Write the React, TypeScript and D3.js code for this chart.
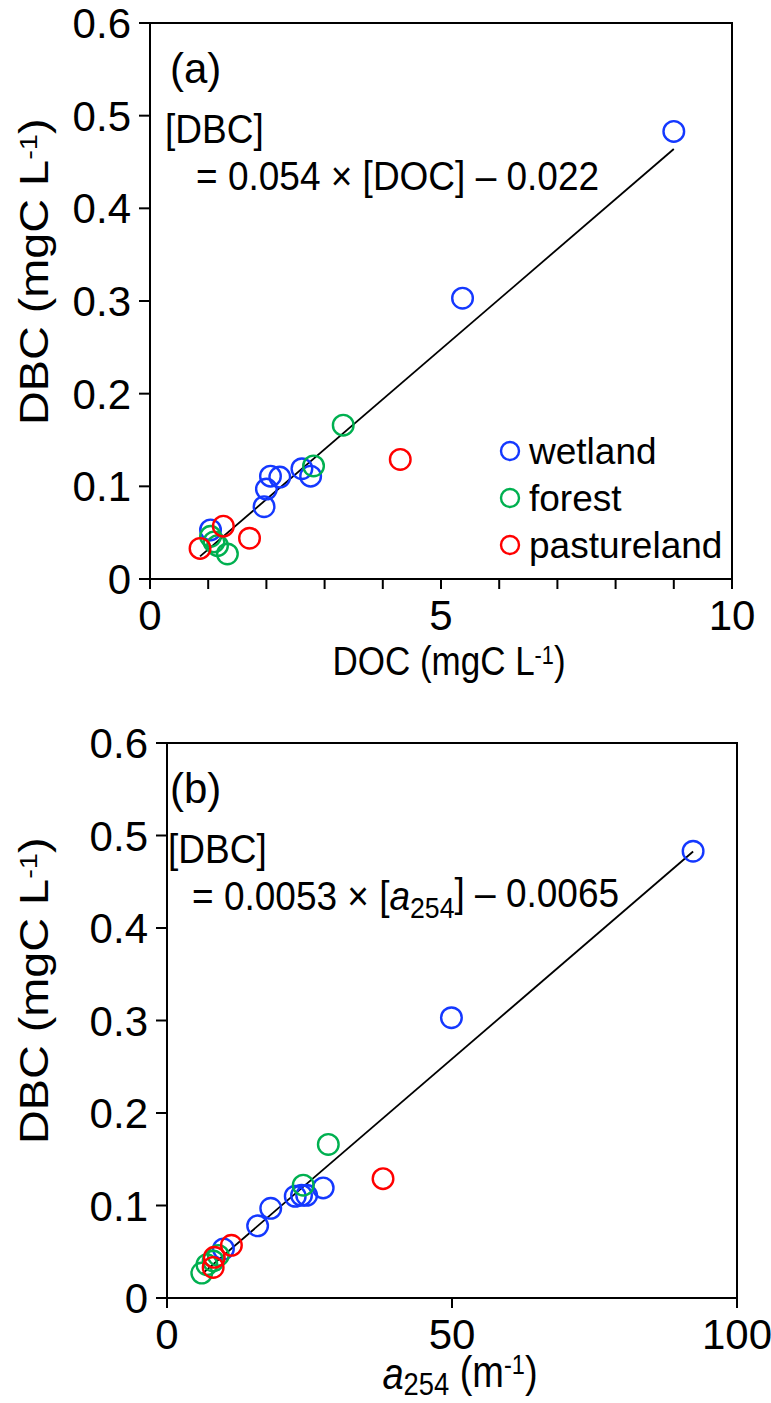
import * as d3 from 'd3';

// wetland / forest / pastureland samples (DBC, DOC, a254)
const wetlandDBC = [0.483, 0.303, 0.119, 0.111, 0.111, 0.110, 0.097, 0.078, 0.053];
const wetlandDOC = [9.0, 5.37, 2.61, 2.76, 2.07, 2.23, 2.0, 1.96, 1.04];
const wetlandA254 = [92.3, 49.9, 27.4, 24.5, 23.6, 22.5, 18.2, 15.9, 9.9];

const forestDBC = [0.166, 0.122, 0.046, 0.04, 0.036, 0.027];
const forestDOC = [3.32, 2.81, 1.04, 1.1, 1.16, 1.33];
const forestA254 = [28.3, 23.9, 9.0, 8.1, 7.0, 6.1];

const pastureDBC = [0.129, 0.057, 0.044, 0.033];
const pastureDOC = [4.3, 1.26, 1.71, 0.86];
const pastureA254 = [37.9, 11.3, 8.3, 8.1];

const yTicks = [0, 0.1, 0.2, 0.3, 0.4, 0.5, 0.6];
const docTicks = [0, 1, 2, 3, 4, 5, 6, 7, 8, 9, 10];
const docLabels = [0, 5, 10];
const a254Ticks = [0, 50, 100];

const fitA = { slope: 0.054, icept: -0.022 };
const fitB = { slope: 0.0053, icept: -0.0065 };

const groups = [
  { name: 'wetland', color: '#1438ff', dbc: wetlandDBC, doc: wetlandDOC, a254: wetlandA254 },
  { name: 'forest', color: '#00b050', dbc: forestDBC, doc: forestDOC, a254: forestA254 },
  { name: 'pastureland', color: '#ff0000', dbc: pastureDBC, doc: pastureDOC, a254: pastureA254 },
];

const FONT = '"Liberation Sans", Arial, sans-serif';
const TICK_FS = 42;
const TAG_FS = 42;
const EQ_FS = 37;
const LEG_FS = 37;
const YT_FS = 40;
const STRETCH = 1.17; // the source image is a bit taller than wide

const sup = (fs) => (
  <>
    <tspan dy="-0.45em" fontSize={fs * 0.62}>-1</tspan>
    <tspan dy="0.28em">)</tspan>
  </>
);

function Panel({ top, left, right, bottom, xMax, xTicks, xLabels, xKey, fit, tag, eq, textX, xTitle, xTitleFs, xTitleDy, legend }) {
  const x = d3.scaleLinear().domain([0, xMax]).range([left, right]);
  const y = d3.scaleLinear().domain([0, 0.6]).range([bottom, top]);
  const allX = groups.flatMap((g) => g[xKey]);
  const [x0, x1] = d3.extent(allX);
  const line = d3.line().x((d) => x(d)).y((d) => y(fit.slope * d + fit.icept));
  const midX = (left + right) / 2;
  return (
    <g fontFamily={FONT} fill="#000">
      <rect x={left} y={top} width={right - left} height={bottom - top} fill="none" stroke="#000" strokeWidth={2} />
      {yTicks.map((t) => (
        <g key={'y' + t}>
          <line x1={left - 11} x2={left} y1={y(t)} y2={y(t)} stroke="#000" strokeWidth={2} />
          <text x={left - 19} y={y(t)} dy="0.36em" textAnchor="end" fontSize={TICK_FS}>
            {t === 0 ? '0' : d3.format('.1f')(t)}
          </text>
        </g>
      ))}
      {xTicks.map((t) => (
        <line key={'x' + t} x1={x(t)} x2={x(t)} y1={bottom} y2={bottom + 10} stroke="#000" strokeWidth={2} />
      ))}
      {xLabels.map((t) => (
        <text key={'xl' + t} x={x(t)} y={bottom + 51} textAnchor="middle" fontSize={TICK_FS}>{t}</text>
      ))}
      <path d={line([x0, x1])} fill="none" stroke="#000" strokeWidth={1.8} />
      {groups.map((g) =>
        g.dbc.map((v, i) => (
          <circle key={g.name + i} cx={x(g[xKey][i])} cy={y(v)} r={10.3} fill="none" stroke={g.color} strokeWidth={2.4} />
        ))
      )}
      <text x={textX[0]} y={top + 60} fontSize={TAG_FS}>{tag}</text>
      <g transform={`translate(${textX[1]},${top + 120}) scale(1,1.08)`}>
        <text fontSize={EQ_FS}>[DBC]</text>
      </g>
      <g transform={`translate(${textX[2]},${top + 167}) scale(1,1.08)`}>
        <text fontSize={EQ_FS}>{eq}</text>
      </g>
      <g transform={`translate(${midX + 8},${bottom + xTitleDy}) scale(1,${STRETCH})`}>
        <text textAnchor="middle" fontSize={xTitleFs}>{xTitle}</text>
      </g>
      <g transform={`translate(48,${bottom - 154}) scale(1,${STRETCH}) rotate(-90)`}>
        <text textAnchor="start" fontSize={YT_FS}>
          DBC (mgC L{sup(YT_FS)}
        </text>
      </g>
      {legend &&
        groups.map((g, i) => (
          <g key={'lg' + g.name}>
            <circle cx={510} cy={top + 428 + i * 47} r={9} fill="none" stroke={g.color} strokeWidth={2.4} />
            <text x={529} y={top + 428 + i * 47} dy="0.36em" fontSize={LEG_FS}>{g.name}</text>
          </g>
        ))}
    </g>
  );
}

export default function App() {
  return (
    <svg width={771} height={1403} style={{ position: 'absolute', left: 0, top: 0, background: '#fff' }}>
      <Panel
        top={23}
        left={150}
        right={732}
        bottom={579}
        xMax={10}
        xTicks={docTicks}
        xLabels={docLabels}
        xKey="doc"
        fit={fitA}
        tag="(a)"
        textX={[170, 165, 196]}
        eq={<>= 0.054 × [DOC] – 0.022</>}
        xTitle={<>DOC (mgC L{sup(35)}</>}
        xTitleFs={35}
        xTitleDy={96}
        legend
      />
      <Panel
        top={743}
        left={167}
        right={737}
        bottom={1298}
        xMax={100}
        xTicks={a254Ticks}
        xLabels={a254Ticks}
        xKey="a254"
        fit={fitB}
        tag="(b)"
        textX={[170, 168, 192]}
        eq={
          <>
            = 0.0053 × [<tspan fontStyle="italic">a</tspan>
            <tspan dy="0.28em" fontSize={EQ_FS * 0.72}>254</tspan>
            <tspan dy="-0.28em">] – 0.0065</tspan>
          </>
        }
        xTitle={
          <>
            <tspan fontStyle="italic">a</tspan>
            <tspan dy="0.2em" fontSize={38 * 0.72}>254</tspan>
            <tspan dy="-0.2em"> (m</tspan>
            {sup(38)}
          </>
        }
        xTitleFs={38}
        xTitleDy={91}
      />
    </svg>
  );
}
